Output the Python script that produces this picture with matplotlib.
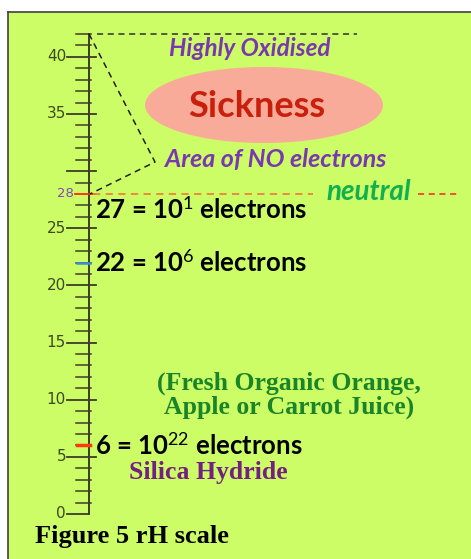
import matplotlib
matplotlib.use("Agg")
import matplotlib.pyplot as plt
import matplotlib.patches as mp
import numpy as np

plt.rcParams.update({"font.family": "Lato", "mathtext.fontset": "custom",
                     "mathtext.rm": "Lato", "mathtext.it": "Lato:italic",
                     "mathtext.bf": "Lato:bold"})

# ---- data ----
scale_min, scale_max = 0, 42
major_ticks = [0, 5, 10, 15, 20, 25, 30, 35, 40]
major_labels = ["0", "5", "10", "15", "20", "25", "", "35", "40"]
neutral_rh = 28
marks_rh = [27, 22, 6]
marks_exp = [1, 6, 22]
mark_colors = [None, "#3a8fd8", "#ff3a10"]

PX = 11.43          # pixels per rH unit
Y0 = 514            # pixel row of rH = 0
W, H = 471, 559

def py(v):          # pixel row -> rH units
    return (Y0 - v) / PX

fig = plt.figure(figsize=(W/100, H/100), dpi=100, facecolor="white")
ax = fig.add_axes([0, 0, 1, 1])
ax.set_xlim(0, W); ax.set_ylim(py(H), py(0)); ax.axis("off")

# panel
ax.add_patch(mp.Rectangle((8, py(H)), W, py(12) - py(H), facecolor="#ccfc66",
                          edgecolor="none", zorder=0))
ax.plot([8, W], [py(12), py(12)], color="#404040", lw=1.2, zorder=1)
ax.plot([8, 8], [py(12), py(H)], color="#404040", lw=1.2, zorder=1)

axc = "#3c3c28"
# scale line + ticks
ax.plot([89, 89], [scale_min, scale_max], color=axc, lw=1.4)
for v in range(scale_min, scale_max + 1):
    if v in major_ticks:
        x1 = 89 if v == 0 else 96
        ax.plot([67, x1], [v, v], color=axc, lw=1.3)
    elif v == neutral_rh:
        ax.plot([75, 95], [v, v], color="#ff2a10", lw=1.3)
    else:
        ax.plot([76, 91], [v, v], color=axc, lw=1.1)
for v, lab in zip(major_ticks, major_labels):
    ax.text(66, v, lab, ha="right", va="center", fontsize=11, color="#3d4a1c",
            family="DejaVu Sans")
ax.text(74, neutral_rh, str(neutral_rh), ha="right", va="center", fontsize=9.5,
        color="#8a44c0", family="DejaVu Sans")

# top dashed line and area outline
ax.plot([97, 357], [scale_max, scale_max], color="#303030", lw=1.1, ls=(0, (4, 3)))
ax.plot([89, 155, 90], [scale_max, py(162), neutral_rh], color="#202020",
        lw=1.1, ls=(0, (4, 3)))

# neutral line
ax.plot([93, 313], [neutral_rh, neutral_rh], color="#f08038", lw=1.3, ls=(0, (4, 3)))
ax.plot([418, 458], [neutral_rh, neutral_rh], color="#ff2020", lw=1.1, ls=(0, (4, 3)))
ax.text(326, neutral_rh + 0.15, "neutral", ha="left", va="center", fontsize=20,
        color="#10b050", style="italic", weight="bold")

# sickness ellipse
ax.add_patch(mp.Ellipse((264, py(105)), 238, 76 / PX, facecolor="#f9ab9a",
                        edgecolor="none"))
ax.text(257, py(106), "Sickness", ha="center", va="center", fontsize=26,
        color="#c8200c", weight="bold")
ax.text(250, py(48), "Highly Oxidised", ha="center", va="center", fontsize=17.5,
        color="#7a38b0", style="italic", weight="bold")
ax.text(165, py(160), "Area of NO electrons", ha="left", va="center", fontsize=18,
        color="#7a38b0", style="italic", weight="bold")

# electron marks
for v, e, c in zip(marks_rh, marks_exp, mark_colors):
    if c is not None:
        ax.plot([77, 90], [v, v], color=c, lw=2.5 if v < 10 else 1.8)
    yy = v - 0.35 if v == 27 else v
    ax.text(95, yy, f"{v} = 10$^{{{e}}}$ electrons", ha="left", va="center",
            fontsize=18.5, color="black", weight="bold")

ax.text(289, py(395), "(Fresh Organic Orange,\nApple or Carrot Juice)",
        ha="center", va="center", fontsize=18.5, color="#1a8428", weight="bold",
        family="Liberation Serif", linespacing=1.05)
ax.text(129, py(473), "Silica Hydride", ha="left", va="center", fontsize=18.5,
        color="#742080", weight="bold", family="Liberation Serif")
ax.text(35, py(537), "Figure 5 rH scale", ha="left", va="center", fontsize=19,
        color="black", weight="bold", family="Liberation Serif")

fig.savefig("out.png", dpi=100, facecolor="white")
